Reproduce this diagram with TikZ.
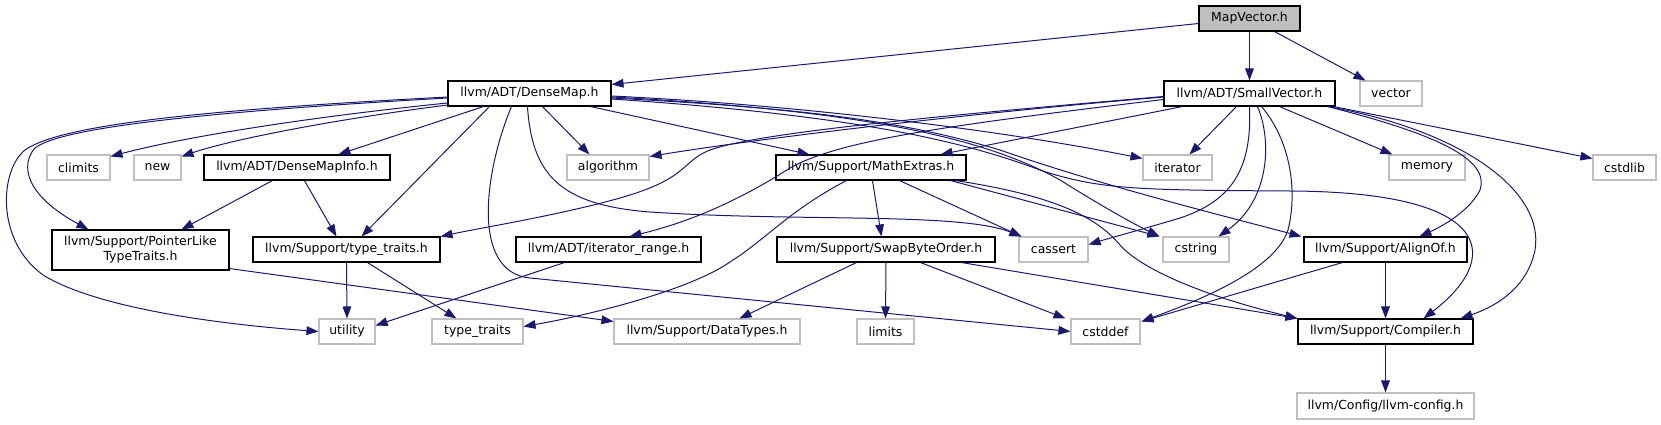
\documentclass[tikz,border=0pt]{standalone}
\usepackage{fontspec}
\setmainfont{DejaVu Sans}
\usetikzlibrary{arrows.meta,calc}
\definecolor{edgeblue}{HTML}{191970}
\definecolor{grayline}{HTML}{BFBFBF}
\newdimen\px \px=0.75pt
\begin{document}
\begin{tikzpicture}[x=0.75pt,y=-0.75pt,
  base/.style={rectangle, inner sep=0pt, font=\fontsize{9.35}{11.25}\selectfont, line width=0.8pt, fill=white, minimum height=25\px},
  doc/.style={base, draw=black},
  ext/.style={base, draw=grayline},
  edge/.style={draw=edgeblue, line width=0.75pt, -{Triangle[length=9pt,width=6.5pt]}},
]
\useasboundingbox (0,0) rectangle (1661,425);
% row 0
\node[doc, fill=grayline, minimum width=101\px] (mv) at (1249.5,18.5) {MapVector.h};
% row 1
\node[doc, minimum width=163\px] (dm) at (529.5,93.5) {llvm/ADT/DenseMap.h};
\node[doc, minimum width=171\px] (sv) at (1249.5,93.5) {llvm/ADT/SmallVector.h};
\node[ext, minimum width=62\px] (vec) at (1391,93.5) {vector};
% row 2
\node[ext, minimum width=63\px] (cli) at (78.5,167.5) {climits};
\node[ext, minimum width=47\px] (new) at (157.5,167.5) {new};
\node[doc, minimum width=186\px] (dmi) at (297,167.5) {llvm/ADT/DenseMapInfo.h};
\node[ext, minimum width=82\px] (alg) at (608,167.5) {algorithm};
\node[doc, minimum width=190\px] (me) at (871,167.5) {llvm/Support/MathExtras.h};
\node[ext, minimum width=69\px] (it) at (1177.5,167.5) {iterator};
\node[ext, minimum width=76\px] (mem) at (1427,167.5) {memory};
\node[ext, minimum width=63\px] (cstdlib) at (1624.5,167.5) {cstdlib};
% row 3
\node[doc, minimum width=177\px, minimum height=40\px, align=center] (plt) at (140.5,250) {llvm/Support/PointerLike\\TypeTraits.h};
\node[doc, minimum width=187\px] (tth) at (346.5,249.5) {llvm/Support/type\_traits.h};
\node[doc, minimum width=185\px] (ir) at (608.5,249.5) {llvm/ADT/iterator\_range.h};
\node[doc, minimum width=218\px] (sbo) at (886,249.5) {llvm/Support/SwapByteOrder.h};
\node[ext, minimum width=69\px] (cas) at (1053.5,249.5) {cassert};
\node[ext, minimum width=66\px] (cstr) at (1196,249.5) {cstring};
\node[doc, minimum width=163\px] (ao) at (1385.5,249.5) {llvm/Support/AlignOf.h};
% row 4
\node[ext, minimum width=56\px] (ut) at (347,331.5) {utility};
\node[ext, minimum width=91\px] (tt) at (477.5,331.5) {type\_traits};
\node[ext, minimum width=186\px] (dt) at (707,331.5) {llvm/Support/DataTypes.h};
\node[ext, minimum width=57\px] (lim) at (885.5,331.5) {limits};
\node[ext, minimum width=69\px] (cdd) at (1105.5,331.5) {cstddef};
\node[doc, minimum width=175\px] (comp) at (1385.5,331.5) {llvm/Support/Compiler.h};
% row 5
\node[ext, minimum width=177\px, minimum height=26\px] (cfg) at (1385.5,406) {llvm/Config/llvm-config.h};

% MapVector
\draw[edge] ($(mv.west)+(0,5)$) -- ($(dm.north east)+(0,4)$);
\draw[edge] (mv.south) -- (sv.north);
\draw[edge] ($(mv.south east)+(-26,0)$) -- ($(vec.north west)+(6,0)$);

% DenseMap
\draw[edge] ($(dm.west)+(0,9.5)$) .. controls (300,118) and (180,138) .. ($(cli.north east)+(0,2)$);
\draw[edge] ($(dm.west)+(0,11.5)$) .. controls (330,120) and (230,140) .. ($(new.north east)+(0,2)$);
\draw[edge] ($(dm.south west)+(36,0)$) -- ($(dmi.north west)+(135,0)$);
\draw[edge] ($(dm.west)+(0,4.5)$) .. controls (200,112) and (60,128) .. (35,148) .. controls (20,165) and (25,195) .. ($(plt.north west)+(37,0)$);
\draw[edge] ($(dm.west)+(0,3.5)$) .. controls (200,110) and (60,125) .. (25,150) .. controls (0,170) and (-5,240) .. (43,275) .. controls (100,310) and (230,325) .. (ut.west);
\draw[edge] ($(dm.south west)+(42,0)$) -- ($(tth.north west)+(109,0)$);
\draw[edge] ($(dm.south west)+(64,0)$) .. controls (485,170) and (470,272) .. (530,278) -- (cdd.west);
\draw[edge] ($(dm.south west)+(80,0)$) .. controls (532,175) and (560,205) .. (650,212) .. controls (800,222) and (960,212) .. ($(cas.north west)+(3,0)$);
\draw[edge] ($(dm.south west)+(95,0)$) -- ($(alg.north west)+(23,0)$);
\draw[edge] ($(dm.south east)+(-21,0)$) -- ($(me.north west)+(34,0)$);
\draw[edge] ($(dm.east)+(0,2.5)$) .. controls (800,105) and (1000,130) .. ($(it.north west)+(0,4)$);
\draw[edge] ($(dm.east)+(0,3.5)$) .. controls (850,110) and (980,135) .. (1060,180) .. controls (1100,205) and (1130,222) .. ($(cstr.north west)+(-3,0)$);
\draw[edge] ($(dm.east)+(0,4.5)$) .. controls (800,108) and (900,120) .. (1000,150) .. controls (1100,185) and (1220,215) .. ($(ao.north west)+(-2,0)$);
\draw[edge] ($(dm.east)+(0,5.5)$) .. controls (850,115) and (960,140) .. (1040,170) .. controls (1100,190) and (1140,190) .. (1290,191) .. controls (1500,192) and (1500,260) .. ($(comp.north east)+(-50,0)$);

% DenseMapInfo
\draw[edge] ($(dmi.south west)+(69,0)$) -- ($(plt.north west)+(130,0)$);
\draw[edge] ($(dmi.south west)+(101,0)$) -- ($(tth.north west)+(84,0)$);

% SmallVector
\draw[edge] ($(sv.west)+(0,3.5)$) .. controls (950,115) and (750,140) .. ($(alg.north east)+(0,2)$);
\draw[edge] ($(sv.west)+(0,3)$) .. controls (950,115) and (760,132) .. (710,150) .. controls (680,162) and (690,178) .. (620,198) .. controls (560,215) and (480,228) .. (tth.north east);
\draw[edge] ($(sv.west)+(0,6)$) .. controls (950,125) and (840,140) .. (790,168) .. controls (740,200) and (690,222) .. ($(ir.north west)+(114,0)$);
\draw[edge] ($(sv.south west)+(19,0)$) -- ($(me.north east)+(-26,0)$);
\draw[edge] ($(sv.south west)+(73,0)$) -- ($(it.north west)+(47,0)$);
\draw[edge] ($(sv.south west)+(86,0)$) .. controls (1252,165) and (1235,200) .. (1180,218) .. controls (1140,230) and (1110,238) .. ($(cas.east)+(0,-5)$);
\draw[edge] ($(sv.south west)+(94,0)$) .. controls (1272,140) and (1270,200) .. ($(cstr.north east)+(-11,0)$);
\draw[edge] ($(sv.south west)+(98,0)$) .. controls (1290,140) and (1298,190) .. (1288,230) .. controls (1275,270) and (1200,300) .. ($(cdd.north east)+(1,3)$);
\draw[edge] ($(sv.south west)+(116,0)$) -- ($(mem.north west)+(4,0)$);
\draw[edge] ($(sv.south east)+(-8,0)$) .. controls (1460,130) and (1545,190) .. (1535,250) .. controls (1528,285) and (1500,305) .. ($(comp.north east)+(-13,0)$);
\draw[edge] ($(sv.south east)+(-8,0)$) .. controls (1440,135) and (1490,160) .. (1480,190) .. controls (1470,210) and (1445,225) .. ($(ao.north west)+(116,0)$);
\draw[edge] ($(sv.south east)+(-2,0)$) -- ($(cstdlib.north west)+(0,4)$);

% MathExtras
\draw[edge] ($(me.south west)+(71,0)$) .. controls (790,210) and (765,240) .. (730,262) .. controls (690,290) and (590,315) .. ($(tt.east)+(0,-5)$);
\draw[edge] ($(me.south west)+(97,0)$) -- ($(sbo.north west)+(105,0)$);
\draw[edge] ($(me.south west)+(124,0)$) -- ($(cas.north west)+(3,0)$);
\draw[edge] ($(me.south east)+(-16,0)$) -- ($(cstr.north west)+(-3,0)$);
\draw[edge] ($(me.south east)+(-11,0)$) .. controls (1050,195) and (1095,215) .. (1120,245) .. controls (1140,268) and (1200,295) .. (comp.north west);

% lower rows
\draw[edge] (tth.south) -- (ut.north);
\draw[edge] ($(tth.south west)+(115,0)$) -- ($(tt.north west)+(25,0)$);
\draw[edge] ($(ir.south west)+(49,0)$) -- ($(ut.east)+(0,-6)$);
\draw[edge] ($(plt.south east)+(0,-2)$) -- ($(dt.north west)+(0,3)$);
\draw[edge] ($(sbo.south west)+(80,0)$) -- ($(dt.north west)+(126,0)$);
\draw[edge] (sbo.south) -- (lim.north);
\draw[edge] ($(sbo.south west)+(144,0)$) -- ($(cdd.north west)+(-5,0)$);
\draw[edge] ($(sbo.south east)+(-34,0)$) -- (comp.north west);
\draw[edge] (ao.south) -- (comp.north);
\draw[edge] ($(ao.south west)+(39,0)$) -- ($(cdd.north east)+(1,3)$);
\draw[edge] (comp.south) -- (cfg.north);
\end{tikzpicture}
\end{document}
